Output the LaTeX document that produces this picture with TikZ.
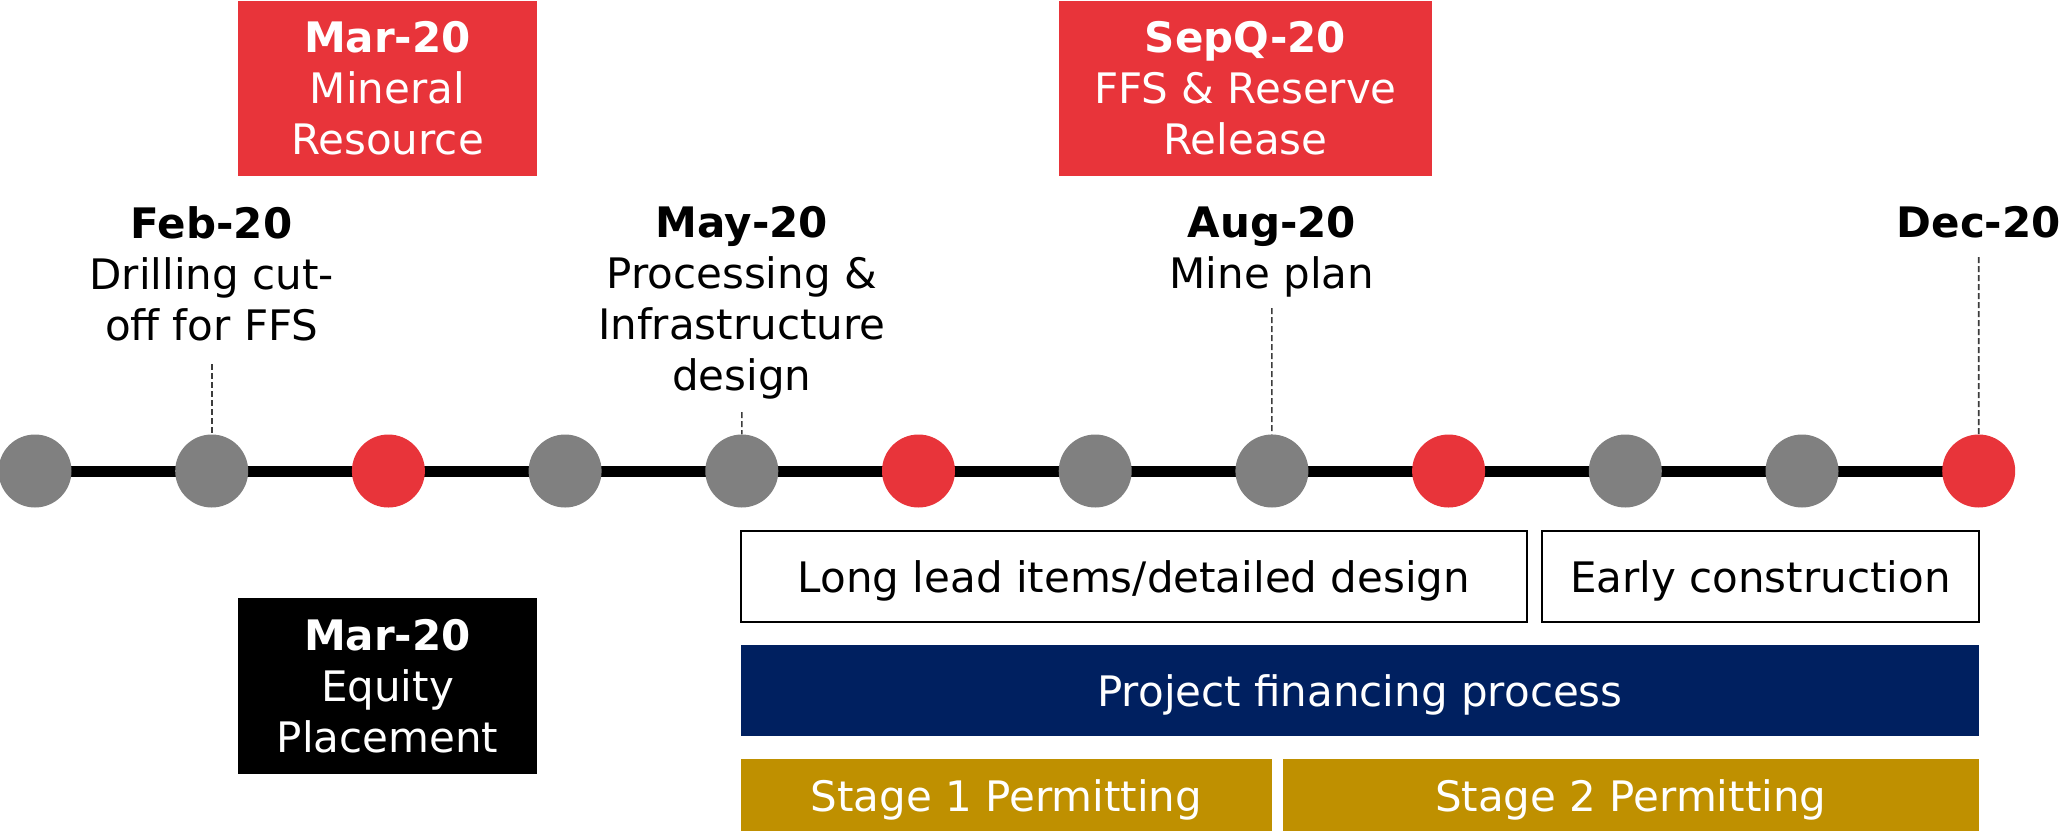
\documentclass[tikz,border=0pt]{standalone}
\usepackage{fontspec}
\setmainfont{DejaVu Sans}
\usetikzlibrary{backgrounds}
\definecolor{mred}{RGB}{232,52,58}
\definecolor{mgray}{RGB}{128,128,128}
\definecolor{mnavy}{RGB}{0,32,96}
\definecolor{mgold}{RGB}{191,144,0}
\definecolor{leadgray}{RGB}{60,60,60}
\begin{document}
\begin{tikzpicture}[x=1pt,y=-1pt,font=\fontsize{42}{51}\selectfont,
  dot/.style={circle,minimum size=73pt,inner sep=0pt},
  lbl/.style={anchor=north,align=center,inner sep=0pt},
  tagbox/.style={align=center,inner sep=0pt,text=white},
  bar/.style={inner sep=0pt,text height=31pt,text depth=0pt},
  outlinebar/.style={bar,draw=black,line width=2pt,fill=white},
  leader/.style={draw=leadgray,line width=1.6pt,dash pattern=on 6pt off 3pt}]
\useasboundingbox (0,0) rectangle (2066,830);
% timeline dots
\foreach \i/\c in {0/mgray,1/mgray,2/mred,3/mgray,4/mgray,5/mred,6/mgray,7/mgray,8/mred,9/mgray,10/mgray,11/mred}
  \node[dot,fill=\c] (c\i) at (35+176.7*\i,471) {};
\begin{scope}[on background layer]
  \draw[line width=11pt] (c0.center) -- (c11.center);
\end{scope}
% red boxes at top
\node[tagbox,fill=mred,minimum width=299pt,minimum height=175pt] (mr) at (387.5,88.5)
  {\textbf{Mar-20}\\Mineral\\Resource};
\node[tagbox,fill=mred,minimum width=373pt,minimum height=175pt] (sq) at (1245.5,88.5)
  {\textbf{SepQ-20}\\FFS \& Reserve\\Release};
% labels above dots
\node[lbl] (feb) at (211.7,206) {\textbf{Feb-20}\\Drilling cut-\\off for FFS};
\node[lbl] (may) at (741.8,206) {\textbf{May-20}\\Processing \&\\Infrastructure\\design};
\node[lbl] (aug) at (1271.9,206) {\textbf{Aug-20}\\Mine plan};
\node[lbl] (dec) at (1978.7,206) {\textbf{Dec-20}};
\coordinate (d1) at (211.7,364);
\coordinate (d4) at (741.8,412);
\coordinate (d7) at (1271.9,308);
\coordinate (d11) at (1978.7,257);
\draw[leader] (d1) -- (c1.north);
\draw[leader] (d4) -- (c4.north);
\draw[leader] (d7) -- (c7.north);
\draw[leader] (d11) -- (c11.north);
% black box
\node[tagbox,fill=black,minimum width=299pt,minimum height=176pt] (eq) at (387.5,686)
  {\textbf{Mar-20}\\Equity\\Placement};
% bars
\node[outlinebar,minimum width=786pt,minimum height=91pt] (ll) at (1134,576.5)
  {Long lead items/detailed design};
\node[outlinebar,minimum width=437pt,minimum height=91pt] (ec) at (1760.3,576.5)
  {Early construction};
\node[bar,fill=mnavy,text=white,minimum width=1238pt,minimum height=91pt] (pf) at (1360,690.5)
  {Project financing process};
\node[bar,fill=mgold,text=white,minimum width=530.5pt,minimum height=74pt] (s1) at (1006.25,796)
  {Stage 1 Permitting};
\node[bar,fill=mgold,text=white,minimum width=696.5pt,minimum height=74pt] (s2) at (1630.75,796)
  {Stage 2 Permitting};
\end{tikzpicture}
\end{document}
